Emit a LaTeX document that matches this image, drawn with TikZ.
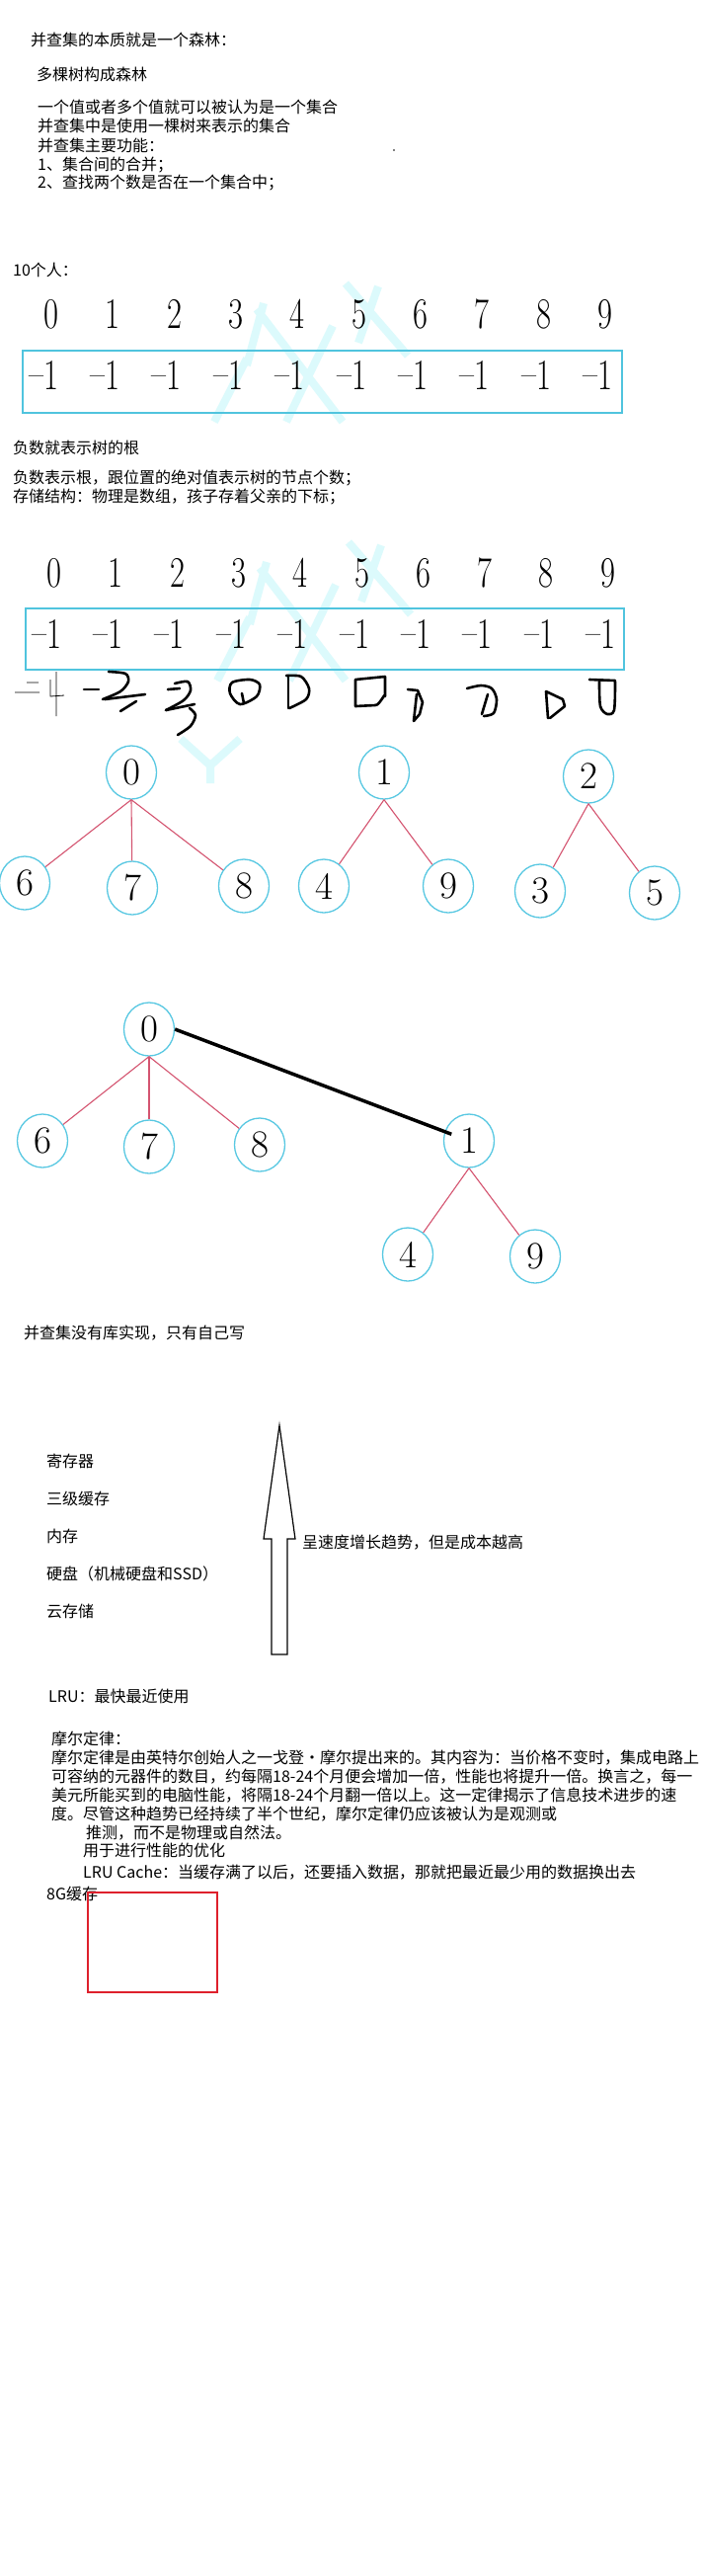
\documentclass[tikz,border=0pt]{standalone}
\usepackage{fontspec}
\newfontfamily\cjk{Noto Sans CJK SC}
\usetikzlibrary{shapes.geometric}
\definecolor{boxc}{RGB}{80,196,222}
\definecolor{nodec}{RGB}{88,200,226}
\definecolor{edgec}{RGB}{212,84,112}
\definecolor{wmc}{RGB}{220,250,252}
\definecolor{lrured}{RGB}{222,32,44}
\begin{document}
\begin{tikzpicture}[x=1pt,y=-1pt,
  txt/.style={anchor=west,inner sep=0pt,font=\cjk\fontsize{16}{16}\selectfont,text height=14pt,text depth=2pt},
  arr/.style={inner sep=0pt,font=\fontsize{44}{44}\selectfont},
  tnode/.style={ellipse,draw=nodec,line width=1.3pt,minimum width=51pt,minimum height=54pt,inner sep=0pt,font=\fontsize{39}{39}\selectfont},
  tedge/.style={draw=edgec,line width=1.1pt},
  hand/.style={line width=2.6pt,line cap=round,line join=round},
  thinhand/.style={line width=0.8pt},
  wmark/.style={draw=wmc,line width=8pt}
]
\fill[white] (0,0) rectangle (712,2608);
\useasboundingbox (0,0) rectangle (712,2608);

% watermark
\draw[wmark] (350,287)--(413,360) (267,307)--(250,370) (260,313)--(347,427)
  (337,330)--(290,427) (250,363)--(217,427) (383,290)--(363,347);
\draw[wmark] (353,549)--(416,622) (270,569)--(253,632) (263,575)--(350,689)
  (340,592)--(293,689) (253,625)--(220,689) (386,552)--(366,609);
\draw[wmark] (183,748)--(213,775) (243,748)--(213,775) (213,775)--(213,793);

% top texts
\node[txt] (t1) at (31,40) {并查集的本质就是一个森林：};
\node[txt] (t2) at (37,75) {多棵树构成森林};
\node[txt] (t3) at (38,108) {一个值或者多个值就可以被认为是一个集合};
\node[txt] (t4) at (38,127) {并查集中是使用一棵树来表示的集合};
\node[txt] (t5) at (38,147) {并查集主要功能：};
\node[txt] (t6) at (38,166) {1、集合间的合并；};
\node[txt] (t7) at (38,184) {2、查找两个数是否在一个集合中；};
\fill (399,152) circle (0.9);
\node[txt] (t8) at (13,273) {10个人：};

% array 1
\foreach \i in {0,...,9} {
  \node[arr] (a\i) at ({52+62.35*\i},318) {\scalebox{0.74}[1]{\i}};
  \node[arr] (b\i) at ({44+62.4*\i},380) {\scalebox{0.74}[1]{\raisebox{0.05em}{--}1}};
}
\draw[boxc,line width=2pt] (23,355) rectangle (630,418);

\node[txt] (t9) at (13,453) {负数就表示树的根};
\node[txt] (t10) at (13,483) {负数表示根，跟位置的绝对值表示树的节点个数；};
\node[txt] (t11) at (13,502) {存储结构：物理是数组，孩子存着父亲的下标；};

% array 2
\foreach \i in {0,...,9} {
  \node[arr] (c\i) at ({55+62.3*\i},580) {\scalebox{0.74}[1]{\i}};
  \node[arr] (d\i) at ({47+62.4*\i},642) {\scalebox{0.74}[1]{\raisebox{0.05em}{--}1}};
}
\draw[boxc,line width=2pt] (26,616) rectangle (632,678);

% handwriting
\draw[thinhand] (27,691)--(39,691) (15,701)--(40,701) (57,680)--(57,725) (51,688)--(51,705)--(65,704);
\draw[hand] (85,698)--(100,698);
\draw[hand] plot[smooth] coordinates {(110,680) (127,682) (130,690) (122,700) (104,708)};
\draw[hand] (106,708)--(147,703) (122,720)--(138,710);
\draw[hand] (170,698)--(182,697);
\draw[hand] plot[smooth] coordinates {(177,692) (190,690) (193,699) (186,709) (168,719)};
\draw[hand] (168,719)--(197,713);
\draw[hand] plot[smooth] coordinates {(192,717) (198,724) (193,735) (180,744)};
\draw[hand] plot[smooth cycle] coordinates {(243,713) (233,702) (235,691) (253,688) (263,693) (260,705)};
\draw[hand] (245,702)--(247,712);
\draw[hand] (292,684)--(292,717);
\draw[hand] plot[smooth] coordinates {(290,684) (305,685) (313,697) (310,708) (293,717)};
\draw[hand] (360,688)--(390,685)--(390,705) to[out=90,in=0] (380,714)--(360,715)--cycle;
\draw[hand] (413,698)--(423,699)--(428,711)--(425,723)--(419,730) (422,703)--(419,730);
\draw[hand] plot[smooth] coordinates {(473,697) (487,694) (498,697) (503,708) (500,722) (490,725)};
\draw[hand] (494,703)--(488,723);
\draw[hand] (553,700)--(555,727) (553,700)--(570,708)--(572,715)--(557,727);
\draw[hand] (597,688)--(623,689);
\draw[hand] plot[smooth] coordinates {(607,690) (608,715) (615,723) (622,719) (623,690)};

% forest
\node[tnode] (n0) at (133,782) {0};
\node[tnode] (n6) at (25,894) {6};
\node[tnode] (n7) at (134,899) {7};
\node[tnode] (n8) at (247,897) {8};
\node[tnode] (n1) at (389,782) {1};
\node[tnode] (n4) at (328,897) {4};
\node[tnode] (n9) at (454,897) {9};
\node[tnode] (n2) at (596,786) {2};
\node[tnode] (n3) at (547,902) {3};
\node[tnode] (n5) at (663,904) {5};
\draw[tedge] (n0.south) -- (n6);
\draw[tedge] (n0.south) -- (n7);
\draw[tedge] (n0.south) -- (n8);
\draw[tedge] (n1.south) -- (n4);
\draw[tedge] (n1.south) -- (n9);
\draw[tedge] (n2.south) -- (n3);
\draw[tedge] (n2.south) -- (n5);

% merged tree
\node[tnode] (m0) at (151,1042) {0};
\node[tnode] (m6) at (43,1155) {6};
\node[tnode] (m7) at (151,1161) {7};
\node[tnode] (m8) at (263,1159) {8};
\node[tnode] (m1) at (475,1155) {1};
\node[tnode] (m4) at (413,1270) {4};
\node[tnode] (m9) at (542,1272) {9};
\draw[tedge] (m0.south) -- (m6);
\draw[tedge] (m0.south) -- (m7);
\draw[tedge] (m0.south) -- (m8);
\draw[tedge] (m1.south) -- (m4);
\draw[tedge] (m1.south) -- (m9);
\draw[line width=3.5pt,shorten >=19pt] (m0.east) -- (m1.center);

\node[txt] (t12) at (24,1349) {并查集没有库实现，只有自己写};

% storage hierarchy
\node[txt] (s1) at (47,1479) {寄存器};
\node[txt] (s2) at (47,1517) {三级缓存};
\node[txt] (s3) at (47,1555) {内存};
\node[txt] (s4) at (47,1593) {硬盘（机械硬盘和SSD）};
\node[txt] (s5) at (47,1631) {云存储};
\draw[line width=1.2pt,fill=white,line join=miter] (275,1675) -- (275,1558) -- (267,1558) -- (283,1443) -- (299,1558) -- (291,1558) -- (291,1675) -- cycle;
\node[txt] (s6) at (306,1561) {呈速度增长趋势，但是成本越高};

% LRU
\node[txt] (l1) at (49,1717) {LRU：最快最近使用};
\node[txt] (l2) at (52,1760) {摩尔定律：};
\node[txt] (l3) at (52,1779) {摩尔定律是由英特尔创始人之一戈登·摩尔提出来的。其内容为：当价格不变时，集成电路上};
\node[txt] (l4) at (52,1798) {可容纳的元器件的数目，约每隔18-24个月便会增加一倍，性能也将提升一倍。换言之，每一};
\node[txt] (l5) at (52,1817) {美元所能买到的电脑性能，将隔18-24个月翻一倍以上。这一定律揭示了信息技术进步的速};
\node[txt] (l6) at (52,1836) {度。尽管这种趋势已经持续了半个世纪，摩尔定律仍应该被认为是观测或};
\node[txt] (l7) at (87,1855) {推测，而不是物理或自然法。};
\node[txt] (l8) at (84,1873) {用于进行性能的优化};
\node[txt] (l9) at (84,1895) {LRU Cache：当缓存满了以后，还要插入数据，那就把最近最少用的数据换出去};
\node[txt] (l10) at (47,1917) {8G缓存};
\draw[lrured,line width=1.2pt] (89,1916) rectangle (220,2017);
\end{tikzpicture}
\end{document}
